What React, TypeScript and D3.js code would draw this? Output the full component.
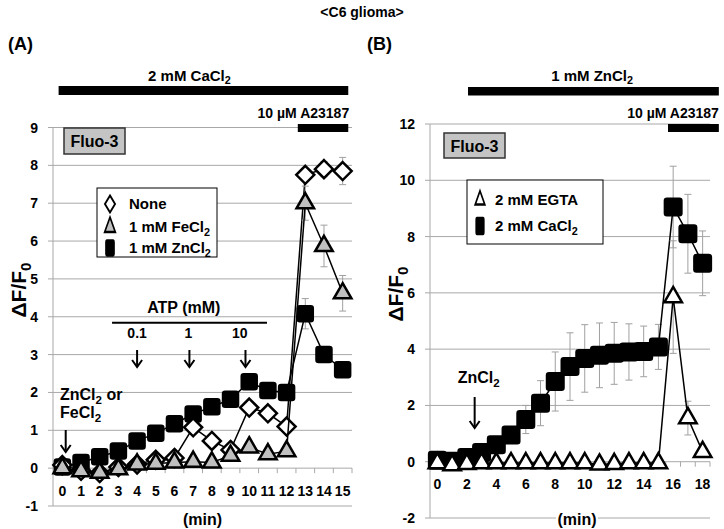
import React from 'react';
import * as d3 from 'd3';

const W = 724;
const H = 529;
const FONT = '"Liberation Sans", Arial, sans-serif';
const GRID = '#a8a8a8';
const ERR = '#a0a0a0';

// ---- panel (A) : C6 glioma in 2 mM CaCl2
const minA = [0, 1, 2, 3, 4, 5, 6, 7, 8, 9, 10, 11, 12, 13, 14, 15];
const yTicksA = [-1, 0, 1, 2, 3, 4, 5, 6, 7, 8, 9];
const noneA = [0.08, -0.07, -0.13, 0.03, 0.1, 0.22, 0.27, 1.08, 0.72, 0.48, 1.6, 1.45, 1.1, 7.75, 7.9, 7.85];
const noneErrA = [0.05, 0.05, 0.05, 0.05, 0.05, 0.05, 0.05, 0.1, 0.1, 0.1, 0.1, 0.1, 0.1, 0.15, 0.2, 0.36];
const feA = [0.0, -0.08, -0.12, -0.03, 0.1, 0.12, 0.15, 0.17, 0.15, 0.33, 0.55, 0.37, 0.45, 7.0, 5.87, 4.62];
const feErrA = [0.05, 0.05, 0.05, 0.05, 0.05, 0.05, 0.05, 0.05, 0.05, 0.1, 0.1, 0.1, 0.1, 0.45, 0.55, 0.47];
const znA = [0.03, 0.15, 0.3, 0.45, 0.72, 0.92, 1.17, 1.43, 1.62, 1.82, 2.28, 2.05, 2.0, 4.08, 3.0, 2.6];
const znErrA = [0.05, 0.05, 0.05, 0.05, 0.1, 0.1, 0.1, 0.1, 0.1, 0.1, 0.1, 0.1, 0.1, 0.4, 0.15, 0.15];
const atpDoses = ['0.1', '1', '10'];
const atpLabelAt = [4, 6.75, 9.5];
const atpArrowAt = [4, 6.8, 9.8];

// ---- panel (B) : 1 mM ZnCl2
const minB = [0, 1, 2, 3, 4, 5, 6, 7, 8, 9, 10, 11, 12, 13, 14, 15, 16, 17, 18];
const xLabelsB = [0, 2, 4, 6, 8, 10, 12, 14, 16, 18];
const yTicksB = [-2, 0, 2, 4, 6, 8, 10, 12];
const egtaB = [-0.05, -0.12, -0.08, -0.05, -0.05, -0.05, -0.05, -0.05, -0.05, -0.05, -0.05, -0.1, -0.08, -0.05, -0.05, -0.05, 5.85, 1.55, 0.35];
const egtaErrB = [0.05, 0.05, 0.05, 0.05, 0.05, 0.05, 0.05, 0.05, 0.05, 0.05, 0.05, 0.05, 0.05, 0.05, 0.05, 0.05, 2.0, 0.6, 0.2];
const caB = [0.05, 0.02, 0.15, 0.33, 0.6, 0.95, 1.5, 2.08, 2.85, 3.38, 3.67, 3.78, 3.85, 3.9, 3.92, 4.08, 9.05, 8.1, 7.05];
const caErrB = [0.05, 0.05, 0.05, 0.1, 0.15, 0.3, 0.5, 0.8, 1.05, 1.2, 1.2, 1.15, 1.1, 1.0, 0.9, 0.8, 1.45, 1.4, 1.15];

type Band = d3.ScaleBand<number>;
type Lin = d3.ScaleLinear<number, number>;

function Marker({ type, x, y, size, fill, sx = 1 }: any) {
  const t = `translate(${x},${y}) scale(${sx},1)`;
  const common = { transform: t, fill, stroke: '#000', strokeWidth: 2.5 };
  if (type === 'square')
    return <rect {...common} x={-size / 2} y={-size / 2} width={size} height={size} rx={2} />;
  if (type === 'diamond')
    return <path {...common} d={`M0,${-size / 2}L${size / 2},0L0,${size / 2}L${-size / 2},0Z`} />;
  return <path {...common} d={d3.symbol(d3.symbolTriangle, size * size * 0.433)() || ''} />;
}

function Series({ x, y, vals, errs, marker, size, fill }: any) {
  const xs = x.domain();
  const cx = (i: number) => x(xs[i]) + x.bandwidth() / 2;
  const line = d3.line<number>().x((_, i) => cx(i)).y(v => y(v));
  return (
    <g>
      {errs.map((e: number, i: number) => (
        <g key={i} stroke={ERR} strokeWidth={1}>
          <line x1={cx(i)} x2={cx(i)} y1={y(vals[i] - e)} y2={y(vals[i] + e)} />
          <line x1={cx(i) - 3.5} x2={cx(i) + 3.5} y1={y(vals[i] - e)} y2={y(vals[i] - e)} />
          <line x1={cx(i) - 3.5} x2={cx(i) + 3.5} y1={y(vals[i] + e)} y2={y(vals[i] + e)} />
        </g>
      ))}
      <path d={line(vals) || ''} fill="none" stroke="#000" strokeWidth={1.5} />
      {vals.map((v: number, i: number) => (
        <Marker key={i} type={marker} x={cx(i)} y={y(v)} size={size} fill={fill} />
      ))}
    </g>
  );
}

function Frame({ x, y, yTicks, xLabels, labelY }: { x: Band; y: Lin; yTicks: number[]; xLabels: number[]; labelY: number }) {
  const [x0, x1] = x.range();
  const y0 = y(0);
  const bw = x.bandwidth();
  return (
    <g>
      {yTicks.map(t => (
        <line key={t} x1={x0 - 5} x2={x1} y1={y(t)} y2={y(t)} stroke={GRID} strokeWidth={1} />
      ))}
      <line x1={x0} x2={x0} y1={y(yTicks[0])} y2={y(yTicks[yTicks.length - 1])} stroke={GRID} />
      {x.domain().map(d => (
        <line key={d} x1={x(d)! + bw} x2={x(d)! + bw} y1={y0} y2={y0 + 5} stroke={GRID} />
      ))}
      {yTicks.map(t => (
        <text key={t} x={x0 - 15} y={y(t)} dy="0.36em" textAnchor="end" fontSize={14}>{t}</text>
      ))}
      {xLabels.map(d => (
        <text key={d} x={x(d)! + bw / 2} y={labelY} textAnchor="middle" fontSize={14}>{d}</text>
      ))}
    </g>
  );
}

function Arrow({ x, y1, y2 }: { x: number; y1: number; y2: number }) {
  return (
    <g stroke="#000" strokeWidth={2} fill="none">
      <line x1={x} x2={x} y1={y1} y2={y2} />
      <polyline points={`${x - 5},${y2 - 7} ${x},${y2} ${x + 5},${y2 - 7}`} />
    </g>
  );
}

function Sub({ pre, sub, post, size }: any) {
  return (
    <>
      {pre}
      <tspan fontSize={size * 0.72} dy={size * 0.25}>{sub}</tspan>
      {post ? <tspan dy={-size * 0.25}>{post}</tspan> : null}
    </>
  );
}

export default function App() {
  const xA = d3.scaleBand<number>().domain(minA).range([53, 352]);
  const yA = d3.scaleLinear().domain([-1, 9]).range([506, 127.5]);
  const xAl = d3.scaleLinear().domain([-0.5, 15.5]).range([53, 352]);
  const xB = d3.scaleBand<number>().domain(minB).range([430, 710]);
  const yB = d3.scaleLinear().domain([-2, 12]).range([518, 124]);
  const xBl = d3.scaleLinear().domain([-0.5, 18.5]).range([430, 710]);

  return (
    <svg width={W} height={H} style={{ position: 'absolute', left: 0, top: 0, background: '#fff' }}
      fontFamily={FONT} fontWeight="bold">
      <rect width={W} height={H} fill="#fff" />
      <text x={362} y={17} textAnchor="middle" fontSize={14}>{'<C6 glioma>'}</text>

      {/* ---------- (A) ---------- */}
      <text x={8} y={50} fontSize={18}>(A)</text>
      <text x={xAl(6.8)} y={80.5} textAnchor="middle" fontSize={15}>
        <Sub pre="2 mM CaCl" sub="2" size={15} />
      </text>
      <rect x={xAl(-0.2)} y={86} width={xAl(15.3) - xAl(-0.2)} height={9} fill="#000" />
      <text x={xAl(15.35)} y={118} textAnchor="end" fontSize={14}>10 µM A23187</text>

      <Frame x={xA} y={yA} yTicks={yTicksA} xLabels={minA} labelY={496} />
      <rect x={xAl(12.6)} y={124} width={xAl(15.3) - xAl(12.6)} height={8} fill="#000" />

      <rect x={64} y={128} width={61} height={26} fill="#c4c4c4" stroke="#333" strokeWidth={1.5} />
      <text x={94.5} y={147} textAnchor="middle" fontSize={16}>Fluo-3</text>

      <rect x={97} y={188} width={120} height={69} fill="#fff" stroke="#000" strokeWidth={1} />
      <Marker type="diamond" x={110} y={204} size={17} fill="#fff" sx={0.6} />
      <Marker type="triangle" x={110} y={227} size={17} fill="#c0c0c0" sx={0.62} />
      <Marker type="square" x={110} y={248} size={15} fill="#000" sx={0.55} />
      <text x={129} y={209} fontSize={15}>None</text>
      <text x={129} y={232} fontSize={15}><Sub pre="1 mM FeCl" sub="2" size={15} /></text>
      <text x={129} y={253} fontSize={15}><Sub pre="1 mM ZnCl" sub="2" size={15} /></text>

      <text x={xAl(6.5)} y={313} textAnchor="middle" fontSize={16}>ATP (mM)</text>
      <line x1={xAl(2.66)} x2={xAl(10.95)} y1={322.7} y2={322.7} stroke="#000" strokeWidth={2} />
      {atpDoses.map((d, i) => (
        <text key={d} x={xAl(atpLabelAt[i])} y={338} textAnchor="middle" fontSize={14}>{d}</text>
      ))}
      {atpArrowAt.map(a => <Arrow key={a} x={xAl(a)} y1={350} y2={367} />)}

      <text x={60} y={400} fontSize={16}><Sub pre="ZnCl" sub="2" post=" or" size={16} /></text>
      <text x={60} y={418} fontSize={16}><Sub pre="FeCl" sub="2" size={16} /></text>
      <Arrow x={xAl(0.18)} y1={430} y2={452} />

      <Series x={xA} y={yA} vals={znA} errs={znErrA} marker="square" size={15} fill="#000" />
      <Series x={xA} y={yA} vals={noneA} errs={noneErrA} marker="diamond" size={18} fill="#fff" />
      <Series x={xA} y={yA} vals={feA} errs={feErrA} marker="triangle" size={17.5} fill="#c0c0c0" />

      <text transform="translate(26,290) rotate(-90)" textAnchor="middle" fontSize={21}>
        <Sub pre="ΔF/F" sub="0" size={21} />
      </text>
      <text x={xAl(7.5)} y={525} textAnchor="middle" fontSize={16}>(min)</text>

      {/* ---------- (B) ---------- */}
      <text x={367} y={50} fontSize={18}>(B)</text>
      <text x={xBl(10.5)} y={80.5} textAnchor="middle" fontSize={15}>
        <Sub pre="1 mM ZnCl" sub="2" size={15} />
      </text>
      <rect x={xBl(2.08)} y={87} width={xBl(19.1) - xBl(2.08)} height={8.5} fill="#000" />
      <text x={xBl(19.1)} y={118} textAnchor="end" fontSize={14}>10 µM A23187</text>

      <Frame x={xB} y={yB} yTicks={yTicksB} xLabels={xLabelsB} labelY={489} />
      <rect x={xBl(15.65)} y={124} width={xBl(19.1) - xBl(15.65)} height={8} fill="#000" />

      <rect x={444} y={133} width={61} height={25} fill="#c4c4c4" stroke="#333" strokeWidth={1.5} />
      <text x={474.5} y={151.5} textAnchor="middle" fontSize={16}>Fluo-3</text>

      <rect x={467} y={180} width={136} height={64} fill="#fff" stroke="#000" strokeWidth={1} />
      <Marker type="triangle" x={480} y={200} size={16} fill="#fff" sx={0.6} />
      <Marker type="square" x={480} y={226} size={16} fill="#000" sx={0.5} />
      <text x={495} y={205} fontSize={15}>2 mM EGTA</text>
      <text x={495} y={231} fontSize={15}><Sub pre="2 mM CaCl" sub="2" size={15} /></text>

      <text x={xBl(2.8)} y={383} textAnchor="middle" fontSize={16}><Sub pre="ZnCl" sub="2" size={16} /></text>
      <Arrow x={xBl(2.53)} y1={397} y2={428} />

      <Series x={xB} y={yB} vals={caB} errs={caErrB} marker="square" size={16.5} fill="#000" />
      <Series x={xB} y={yB} vals={egtaB} errs={egtaErrB} marker="triangle" size={17.5} fill="#fff" />

      <text transform="translate(403,294) rotate(-90)" textAnchor="middle" fontSize={21}>
        <Sub pre="ΔF/F" sub="0" size={21} />
      </text>
      <rect x={556} y={510} width={42} height={18} fill="#fff" />
      <text x={577} y={525} textAnchor="middle" fontSize={16}>(min)</text>
    </svg>
  );
}
